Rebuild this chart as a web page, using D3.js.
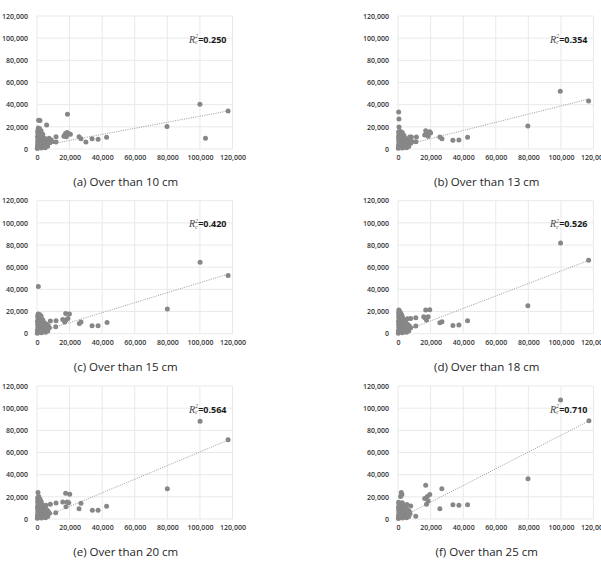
<!DOCTYPE html>
<html><head><meta charset="utf-8">
<script src="https://cdn.jsdelivr.net/npm/d3@7"></script>
<style>body{margin:0;background:#fff}svg{display:block}</style>
</head><body><svg id="c" width="601" height="562"></svg>
<script>
// ---------------- data ----------------
const captions = ["(a) Over than 10 cm", "(b) Over than 13 cm", "(c) Over than 15 cm",
                  "(d) Over than 18 cm", "(e) Over than 20 cm", "(f) Over than 25 cm"];
const r2Values = ["0.250", "0.354", "0.420", "0.526", "0.564", "0.710"];
const trendSlope = [0.273, 0.368, 0.450, 0.562, 0.615, 0.755];
const trendIntercept = [2300, 2000, 1000, 300, -1000, 0];
const trendXRange = [0, 117500];
const xTicks = [0, 20000, 40000, 60000, 80000, 100000, 120000];
const yTicks = [0, 20000, 40000, 60000, 80000, 100000, 120000];

const pointsA = [
  [100000,40300],[117300,34300],[103400,9600],[79800,20200],[18700,31300],[5900,21700],[1000,25900],[1800,25700],[800,19000],
  [11700,6300],[11700,11100],[17000,12500],[18500,15000],[19500,13800],[20500,13200],[16500,11500],[18000,11000],[17500,14000],
  [25800,11100],[27000,9300],[30000,6300],[33800,9300],[37500,8700],[42700,10500],
  [200,500],[600,1500],[300,3000],[900,4200],[400,5600],[1100,6800],[500,8000],[900,9500],[300,10800],[1200,11800],[600,13000],
  [1000,14200],[400,15500],[1300,16600],[700,17600],[1800,2400],[2100,5000],[1700,7500],[2200,9800],[1900,12300],[2300,14800],
  [2600,1000],[2900,3800],[3100,6400],[2800,8700],[3300,11000],[3600,2300],[4000,5200],[3900,7900],[4400,9900],[4800,3500],
  [5200,6300],[5600,8800],[6200,4800],[6800,7200],[7400,9800],[7900,5600],[8600,8300],[9400,6800],[5000,1200],[6500,2500],
  [3500,13200],[2500,16500],[1500,18500]
];
const pointsB = [
  [99600,52000],[117000,43300],[79700,20800],[400,33400],[600,27000],[600,19800],[11300,10800],[11000,6600],[17000,16500],
  [19500,15600],[18000,13500],[16400,12600],[20000,14500],[18500,11500],[25700,10800],[27000,9300],[33700,7800],[37400,8100],
  [42700,10500],[7200,10800],[8200,10900],
  [200,600],[700,1800],[300,3200],[1000,4500],[500,5800],[1200,7000],[400,8300],[900,9600],[300,11000],[1100,12200],[600,13400],
  [1000,14600],[400,15500],[1800,2000],[2200,4800],[1700,7300],[2300,9400],[1900,11600],[2400,13600],[2700,800],[3000,3500],
  [3200,6100],[2900,8500],[3400,10400],[3800,2500],[4200,5000],[4100,7600],[4600,9600],[5000,3300],[5400,6000],[5800,8400],
  [6300,4600],[6900,7000],[7500,9000],[7900,5200],[5200,1200],[6600,2300],[3600,12300],[2600,14800],[1500,15800],[8600,6800]
];
const pointsC = [
  [100100,64400],[117300,52600],[80000,22300],[800,42600],[17600,18300],[19900,17700],[15800,12900],[17800,12300],[19000,13800],
  [17000,10500],[11700,11700],[11500,6300],[8200,11400],[26000,9300],[27000,10500],[33800,7200],[37500,7200],[43000,10200],
  [200,400],[700,1600],[300,3100],[1000,4400],[500,5700],[1200,6900],[400,8200],[900,9500],[300,10900],[1100,12100],[600,13300],
  [1000,14500],[400,15700],[1300,16800],[700,17800],[1800,2200],[2200,4900],[1700,7400],[2300,9700],[1900,12000],[2400,14200],
  [2700,900],[3000,3600],[3200,6200],[2900,8600],[3400,10600],[3800,2400],[4200,5100],[4100,7700],[4600,9800],[5000,3400],
  [5400,6100],[5800,8500],[6300,4700],[6900,7100],[5200,1300],[6600,2400],[3500,12600],[2500,16000],[1500,17300],[7600,5400]
];
const pointsD = [
  [99800,81800],[117000,66200],[79700,25300],[17000,21400],[19500,21700],[15800,15300],[18500,15300],[17500,12300],[16500,14500],
  [10900,14400],[10900,6900],[7800,13800],[5800,13500],[25700,9900],[27000,10800],[33700,7500],[37400,7800],[42700,11700],
  [200,500],[700,1700],[300,3000],[1000,4300],[500,5600],[1200,6800],[400,8100],[900,9400],[300,10700],[1100,12000],[600,13200],
  [1000,14400],[400,15600],[1300,16700],[700,17800],[400,19000],[1000,20200],[500,21300],[1800,2300],[2200,4900],[1700,7400],
  [2300,9700],[1900,12100],[2400,14500],[2000,17600],[2700,900],[3000,3700],[3200,6300],[2900,8600],[3400,10800],[3800,2400],
  [4200,5100],[4100,7800],[4600,10000],[5000,3400],[5400,6200],[5800,8600],[6300,4700],[6900,7200],[5200,1200],[6600,2400],
  [3500,12800],[2600,15800],[1500,19000],[7800,5300]
];
const pointsE = [
  [100100,88100],[117300,71600],[80000,27400],[600,23800],[17600,23200],[20100,22300],[15800,15300],[18500,15300],[19500,14700],
  [17800,11100],[11700,14400],[11500,5700],[8200,13200],[25800,9300],[27000,14100],[34000,7800],[37500,7800],[42700,11400],[5500,12500],
  [200,600],[700,1800],[300,3100],[1000,4400],[500,5700],[1200,6900],[400,8200],[900,9500],[300,10800],[1100,12100],[600,13300],
  [1000,14500],[400,15700],[1300,16800],[700,17900],[400,19100],[1000,20300],[1800,2200],[2200,4800],[1700,7300],[2300,9600],
  [1900,12000],[2400,14400],[2000,17400],[2700,900],[3000,3600],[3200,6200],[2900,8500],[3400,10600],[3800,2300],[4200,5000],
  [4100,7700],[4600,9700],[5000,3300],[5400,6100],[5800,8500],[6300,4600],[6900,7100],[5200,1100],[6600,2300],[3500,12500],
  [2600,15600],[1500,18600],[7700,5200]
];
const pointsF = [
  [99800,107400],[117200,88700],[79800,36400],[2000,24000],[1600,20200],[2400,22000],[17000,30400],[19500,22000],[16400,18600],
  [18000,20200],[18500,16200],[17500,13200],[26900,27400],[25700,9300],[33700,12900],[37400,12300],[42700,12900],[10900,2400],
  [7800,11700],[5500,13000],
  [200,500],[700,1700],[300,3000],[1000,4300],[500,5600],[1200,6800],[400,8100],[900,9400],[300,10700],[1100,12000],[600,13200],
  [1000,14300],[400,15200],[1800,2100],[2200,4700],[1700,7200],[2300,9500],[1900,11800],[2400,13800],[2700,800],[3000,3500],
  [3200,6100],[2900,8400],[3400,10500],[3800,2300],[4200,5000],[4100,7600],[4600,9600],[5000,3300],[5400,6000],[5800,8300],
  [6300,4500],[6900,6900],[5200,1100],[6600,2200],[3500,12200],[2600,14600],[7400,4800]
];
const panelData = [pointsA, pointsB, pointsC, pointsD, pointsE, pointsF];

// ---------------- drawing ----------------
const svg = d3.select("#c");
const colLeft = [37, 398], rowTop = [16, 200.7, 386];
const pw = 195.5, ph = 133;
const fmt = d3.format(",");
const tickFont = "'Open Sans', sans-serif";

panelData.forEach((pts, i) => {
  const col = i % 2, row = Math.floor(i / 2);
  const g = svg.append("g").attr("transform", `translate(${colLeft[col]},${rowTop[row]})`);
  const x = d3.scaleLinear().domain([0, 120000]).range([0, pw]);
  const y = d3.scaleLinear().domain([0, 120000]).range([ph, 0]);

  // grid
  g.append("g").selectAll("line").data(xTicks).join("line")
    .attr("x1", d => x(d)).attr("x2", d => x(d)).attr("y1", 0).attr("y2", ph)
    .attr("stroke", "#e9e9e9").attr("stroke-width", 1);
  g.append("g").selectAll("line").data(yTicks).join("line")
    .attr("y1", d => y(d)).attr("y2", d => y(d)).attr("x1", 0).attr("x2", pw)
    .attr("stroke", "#e9e9e9").attr("stroke-width", 1);

  // axes
  const ya = g.append("g").call(d3.axisLeft(y).tickValues(yTicks).tickSize(0).tickPadding(9).tickFormat(fmt));
  const xa = g.append("g").attr("transform", `translate(0,${ph})`)
    .call(d3.axisBottom(x).tickValues(xTicks).tickSize(0).tickPadding(6).tickFormat(fmt));
  [ya, xa].forEach(a => {
    a.select(".domain").remove();
    a.selectAll("text").attr("font-family", tickFont).attr("font-size", "7px")
      .attr("font-weight", 600).attr("fill", "#333333");
  });

  // trend line
  const tl = trendXRange.map(v => [v, trendIntercept[i] + trendSlope[i] * v]);
  g.append("path").attr("d", d3.line().x(d => x(d[0])).y(d => y(d[1]))(tl))
    .attr("fill", "none").attr("stroke", "#9a9a9a").attr("stroke-width", 1)
    .attr("stroke-dasharray", "1,1.3");

  // points
  g.append("g").selectAll("circle").data(pts).join("circle")
    .attr("cx", d => x(d[0])).attr("cy", d => y(d[1])).attr("r", 2.5)
    .attr("fill", "#878787");

  // R² label
  const xr = pw - 6, yr = 26.5;
  const val = g.append("text").attr("x", xr).attr("y", yr).attr("text-anchor", "end")
    .attr("font-family", tickFont).attr("font-weight", 700).attr("font-size", "9px")
    .attr("fill", "#1a1a1a").text("=" + r2Values[i]);
  const w = val.node().getComputedTextLength();
  const rx = xr - w - 3.2;
  g.append("text").attr("x", rx).attr("y", yr).attr("text-anchor", "end")
    .attr("font-family", "'Liberation Serif', serif").attr("font-style", "italic")
    .attr("font-size", "10px").attr("fill", "#444").text("R");
  g.append("text").attr("x", rx + 0.2).attr("y", yr - 4.5).attr("font-family", "'Liberation Serif', serif")
    .attr("font-style", "italic").attr("font-size", "5.5px").attr("fill", "#444").text("2");
  g.append("text").attr("x", rx + 0.2).attr("y", yr + 1.5).attr("font-family", "'Liberation Serif', serif")
    .attr("font-style", "italic").attr("font-size", "5.5px").attr("fill", "#444").text("c");

  // caption
  g.append("text").attr("x", pw / 2 - 9).attr("y", ph + 37).attr("text-anchor", "middle")
    .attr("font-family", "'Open Sans', sans-serif").attr("font-size", "11.5px")
    .attr("fill", "#1e1e1e").text(captions[i]);
});
</script>
</body></html>
